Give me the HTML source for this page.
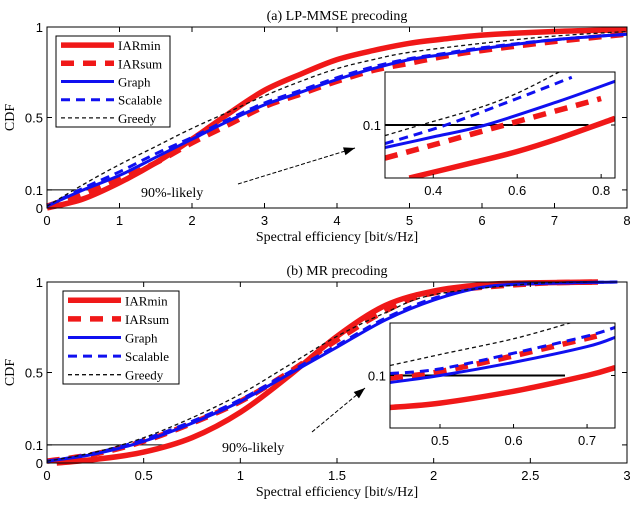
<!DOCTYPE html>
<html><head><meta charset="utf-8">
<style>
body{margin:0;background:#fff;width:638px;height:510px;overflow:hidden}
svg text{font-family:"Liberation Sans",sans-serif}
.serif{font-family:"Liberation Serif",serif}
</style></head>
<body>
<svg id="chart" width="638" height="510" viewBox="0 0 638 510" xmlns="http://www.w3.org/2000/svg"></svg>
<script>
// ---------- data: panel (a) LP-MMSE ----------
const aXTicks=[0,1,2,3,4,5,6,7,8];
const yTicks=[0,0.1,0.5,1];
const aIARminX=[0,0.5,1,1.5,2,2.5,3,3.5,4,4.5,5,5.5,6,7,8];
const aIARminY=[0,0.05,0.14,0.25,0.38,0.52,0.65,0.74,0.82,0.87,0.91,0.935,0.955,0.975,0.985];
const aIARsumX=[0,0.5,1,1.5,2,2.5,3,3.5,4,4.5,5,5.5,6,7,8];
const aIARsumY=[0.01,0.08,0.16,0.25,0.36,0.46,0.56,0.63,0.7,0.76,0.8,0.84,0.87,0.92,0.96];
const aGraphX=[0,0.5,1,1.5,2,2.5,3,3.5,4,4.5,5,5.5,6,7,8];
const aGraphY=[0.01,0.1,0.18,0.28,0.38,0.48,0.57,0.64,0.71,0.77,0.82,0.85,0.88,0.93,0.96];
const aScalX=[0,0.5,1,1.5,2,2.5,3,3.5,4,4.5,5,5.5,6,7,8];
const aScalY=[0.01,0.11,0.2,0.3,0.39,0.49,0.58,0.65,0.72,0.78,0.825,0.855,0.885,0.93,0.96];
const aGreedyX=[0,0.5,1,1.5,2,2.5,3,3.5,4,4.5,5,6,7,8];
const aGreedyY=[0.01,0.13,0.24,0.34,0.44,0.53,0.62,0.7,0.77,0.82,0.86,0.91,0.95,0.975];
// inset (a)
const aInXTicks=[0.4,0.6,0.8];
const aInIARminX=[0.343,0.5,0.6,0.7,0.833];
const aInIARminY=[0.06,0.072,0.08,0.09,0.105];
const aInIARsumX=[0.285,0.4,0.57,0.8];
const aInIARsumY=[0.075,0.085,0.1,0.12];
const aInGraphX=[0.285,0.4,0.525,0.7,0.833];
const aInGraphY=[0.083,0.091,0.1,0.118,0.133];
const aInScalX=[0.285,0.43,0.6,0.73];
const aInScalY=[0.086,0.1,0.12,0.136];
const aInGreedyX=[0.285,0.37,0.5,0.6,0.7];
const aInGreedyY=[0.092,0.1,0.112,0.124,0.14];
// ---------- data: panel (b) MR ----------
const bXTicks=[0,0.5,1,1.5,2,2.5,3];
const bIARminX=[0.05,0.25,0.5,0.75,1,1.25,1.5,1.75,2,2.25,2.5,2.85];
const bIARminY=[0,0.02,0.06,0.14,0.28,0.48,0.7,0.87,0.95,0.985,0.995,1];
const bIARsumX=[0,0.25,0.5,0.75,1,1.25,1.5,1.75,2,2.5,2.85];
const bIARsumY=[0.01,0.05,0.12,0.22,0.34,0.5,0.68,0.84,0.94,0.99,1];
const bGraphX=[0,0.25,0.5,0.75,1,1.25,1.5,1.75,2,2.25,2.5,2.95];
const bGraphY=[0.01,0.05,0.12,0.22,0.34,0.49,0.64,0.79,0.9,0.97,0.99,1];
const bScalX=[0,0.25,0.5,0.75,1,1.25,1.5,1.75,2,2.25,2.5,2.95];
const bScalY=[0.01,0.055,0.13,0.23,0.35,0.5,0.65,0.8,0.91,0.97,0.99,1];
const bGreedyX=[0,0.25,0.5,0.75,1,1.25,1.5,1.75,2,2.5,2.8];
const bGreedyY=[0.01,0.06,0.14,0.25,0.38,0.54,0.7,0.83,0.93,0.99,1];
// inset (b)
const bInXTicks=[0.5,0.6,0.7];
const bInIARminX=[0.432,0.5,0.6,0.7,0.738];
const bInIARminY=[0.0756,0.079,0.088,0.1,0.106];
const bInIARsumX=[0.432,0.5,0.6,0.72];
const bInIARsumY=[0.098,0.103,0.115,0.131];
const bInGraphX=[0.432,0.5,0.6,0.7,0.738];
const bInGraphY=[0.0947,0.1,0.11,0.122,0.129];
const bInScalX=[0.432,0.5,0.6,0.7,0.738];
const bInScalY=[0.1015,0.105,0.117,0.13,0.1366];
const bInGreedyX=[0.432,0.5,0.6,0.677];
const bInGreedyY=[0.1076,0.116,0.128,0.14];

const NS="http://www.w3.org/2000/svg";
const svg=document.getElementById('chart');
function mk(tag,attrs,parent){const e=document.createElementNS(NS,tag);for(const k in attrs)e.setAttribute(k,attrs[k]);(parent||svg).appendChild(e);return e;}
const styles={
 iarmin:{stroke:'#f01818',w:5.5,dash:''},
 iarsum:{stroke:'#f01818',w:5.5,dash:'13 9'},
 graph:{stroke:'#1010f0',w:3,dash:''},
 scal:{stroke:'#1010f0',w:3,dash:'9 6'},
 greedy:{stroke:'#111',w:1.3,dash:'4 3'}
};
function line(g,xs,ys,sx,sy,st,name){
 const P=xs.map((x,i)=>[sx(x),sy(ys[i])]);
 let d='M'+P[0][0].toFixed(1)+','+P[0][1].toFixed(1);
 for(let i=0;i<P.length-1;i++){
  const p0=P[Math.max(0,i-1)],p1=P[i],p2=P[i+1],p3=P[Math.min(P.length-1,i+2)];
  const c1=[p1[0]+(p2[0]-p0[0])/6,p1[1]+(p2[1]-p0[1])/6];
  const c2=[p2[0]-(p3[0]-p1[0])/6,p2[1]-(p3[1]-p1[1])/6];
  d+=` C${c1[0].toFixed(1)},${c1[1].toFixed(1)} ${c2[0].toFixed(1)},${c2[1].toFixed(1)} ${p2[0].toFixed(1)},${p2[1].toFixed(1)}`;
 }
 const el=mk('path',{d:d,fill:'none',stroke:st.stroke,'stroke-width':st.w,'stroke-dasharray':st.dash,'stroke-linejoin':'round'},g);
 
 
}
function panel(o){
 const g=mk('g',{});
 
 
 const sx=v=>o.L+(v-o.x0)/(o.x1-o.x0)*(o.R-o.L);
 const sy=v=>o.B-(v)*(o.B-o.T);
 mk('line',{x1:sx(o.x0),x2:sx(o.refEnd),y1:sy(0.1),y2:sy(0.1),stroke:'#000','stroke-width':1},g);
 line(g,o.d.iarmin[0],o.d.iarmin[1],sx,sy,styles.iarmin,'iarmin-curve');
 line(g,o.d.iarsum[0],o.d.iarsum[1],sx,sy,styles.iarsum,'iarsum-curve');
 line(g,o.d.graph[0],o.d.graph[1],sx,sy,styles.graph,'graph-curve');
 line(g,o.d.scal[0],o.d.scal[1],sx,sy,styles.scal,'scalable-curve');
 line(g,o.d.greedy[0],o.d.greedy[1],sx,sy,styles.greedy,'greedy-curve');
 const box=mk('rect',{x:o.L,y:o.T,width:o.R-o.L,height:o.B-o.T,fill:'none',stroke:'#000','stroke-width':1},g);
 
 
 o.xt.forEach(v=>{const x=sx(v);
  mk('line',{x1:x,x2:x,y1:o.B,y2:o.B-5,stroke:'#000'},g);
  mk('line',{x1:x,x2:x,y1:o.T,y2:o.T+5,stroke:'#000'},g);
  const t=mk('text',{x:x,y:o.B+17,'text-anchor':'middle','font-size':13},g);t.textContent=v;
  
  
 });
 yTicks.forEach(v=>{const y=sy(v);
  mk('line',{x1:o.L,x2:o.L+5,y1:y,y2:y,stroke:'#000'},g);
  mk('line',{x1:o.R,x2:o.R-5,y1:y,y2:y,stroke:'#000'},g);
  const t=mk('text',{x:o.L-4,y:y+5,'text-anchor':'end','font-size':13},g);t.textContent=v;
  
  
 });
 const ti=mk('text',{x:(o.L+o.R)/2,y:o.T-7,'text-anchor':'middle','font-size':14,class:'serif'},g);ti.textContent=o.title;
 
 
 const xl=mk('text',{x:(o.L+o.R)/2,y:o.B+33,'text-anchor':'middle','font-size':14,class:'serif'},g);xl.textContent='Spectral efficiency [bit/s/Hz]';
 
 
 const yl=mk('text',{x:14,y:(o.T+o.B)/2,'text-anchor':'middle','font-size':14,class:'serif',transform:`rotate(-90 14 ${(o.T+o.B)/2})`},g);yl.textContent='CDF';
 
 
 const I=o.in;
 const ig=mk('g',{},g);
 
 
 mk('rect',{x:I.L,y:I.T,width:I.R-I.L,height:I.B-I.T,fill:'#fff'},ig);
 const isx=v=>I.L+(v-I.x0)/(I.x1-I.x0)*(I.R-I.L);
 const isy=v=>I.B-(v-0.06)/(0.14-0.06)*(I.B-I.T);
 const cp='clip'+o.name;
 const c=mk('clipPath',{id:cp},ig);mk('rect',{x:I.L,y:I.T,width:I.R-I.L,height:I.B-I.T},c);
 const ic=mk('g',{'clip-path':`url(#${cp})`},ig);
 mk('line',{x1:isx(I.x0),x2:isx(I.refEnd),y1:isy(0.1),y2:isy(0.1),stroke:'#000','stroke-width':2},ic);
 line(ic,I.d.iarmin[0],I.d.iarmin[1],isx,isy,styles.iarmin,'inset-iarmin-curve');
 line(ic,I.d.iarsum[0],I.d.iarsum[1],isx,isy,styles.iarsum,'inset-iarsum-curve');
 line(ic,I.d.graph[0],I.d.graph[1],isx,isy,styles.graph,'inset-graph-curve');
 line(ic,I.d.scal[0],I.d.scal[1],isx,isy,styles.scal,'inset-scalable-curve');
 line(ic,I.d.greedy[0],I.d.greedy[1],isx,isy,styles.greedy,'inset-greedy-curve');
 mk('rect',{x:I.L,y:I.T,width:I.R-I.L,height:I.B-I.T,fill:'none',stroke:'#000'},ig);
 I.xt.forEach(v=>{const x=isx(v);
  mk('line',{x1:x,x2:x,y1:I.B,y2:I.B-4,stroke:'#000'},ig);
  const t=mk('text',{x:x,y:I.B+17,'text-anchor':'middle','font-size':13},ig);t.textContent=v;
  
  
 });
 mk('line',{x1:I.L,x2:I.L+4,y1:isy(0.1),y2:isy(0.1),stroke:'#000'},ig);
 mk('line',{x1:I.R,x2:I.R-4,y1:isy(0.1),y2:isy(0.1),stroke:'#000'},ig);
 const it=mk('text',{x:I.L-4,y:isy(0.1)+5,'text-anchor':'end','font-size':13},ig);it.textContent='0.1';
 
 
 const an=mk('text',{x:o.ann.tx,y:o.ann.ty,'font-size':14,class:'serif'},g);an.textContent='90%-likely';
 
 
 const ar=mk('line',{x1:o.ann.x1,y1:o.ann.y1,x2:o.ann.x2,y2:o.ann.y2,stroke:'#000','stroke-width':1,'stroke-dasharray':'4 2'},g);
 
 
 const ang=Math.atan2(o.ann.y2-o.ann.y1,o.ann.x2-o.ann.x1);
 const hx=o.ann.x2,hy=o.ann.y2,s=12;
 const p1=[hx-s*Math.cos(ang-0.35),hy-s*Math.sin(ang-0.35)],p2=[hx-s*Math.cos(ang+0.35),hy-s*Math.sin(ang+0.35)];
 mk('polygon',{points:`${hx},${hy} ${p1} ${p2}`,fill:'#000'},g);
 const Lg=o.leg;
 const lg=mk('g',{},g);
 
 
 mk('rect',{x:Lg.x,y:Lg.y,width:Lg.w,height:Lg.h,fill:'#fff',stroke:'#000'},lg);
 const ent=[['IARmin','iarmin'],['IARsum','iarsum'],['Graph','graph'],['Scalable','scal'],['Greedy','greedy']];
 ent.forEach((e,i)=>{const y=Lg.y+Lg.h*(i+0.5)/5;const st=styles[e[1]];
  const le=mk('g',{},lg);
  
  
  mk('line',{x1:Lg.x+5,x2:Lg.x+58,y1:y,y2:y,stroke:st.stroke,'stroke-width':st.w,'stroke-dasharray':st.dash},le);
  const t=mk('text',{x:Lg.x+62,y:y+5,'text-anchor':'start','font-size':13,class:'serif'},le);t.textContent=e[0];
 });
}
panel({name:'panel-a-lp-mmse',title:'(a) LP-MMSE precoding',L:47,R:627,T:27,B:208,x0:0,x1:8,xt:aXTicks,refEnd:0.8,
 d:{iarmin:[aIARminX,aIARminY],iarsum:[aIARsumX,aIARsumY],graph:[aGraphX,aGraphY],scal:[aScalX,aScalY],greedy:[aGreedyX,aGreedyY]},
 in:{L:385,R:615,T:72,B:178,x0:0.285,x1:0.833,xt:aInXTicks,refEnd:0.77,
  d:{iarmin:[aInIARminX,aInIARminY],iarsum:[aInIARsumX,aInIARsumY],graph:[aInGraphX,aInGraphY],scal:[aInScalX,aInScalY],greedy:[aInGreedyX,aInGreedyY]}},
 ann:{tx:141,ty:197,x1:238,y1:184,x2:355,y2:148},
 leg:{x:56,y:36,w:114,h:91}});
panel({name:'panel-b-mr',title:'(b) MR precoding',L:47,R:627,T:282,B:463,x0:0,x1:3,xt:bXTicks,refEnd:0.65,
 d:{iarmin:[bIARminX,bIARminY],iarsum:[bIARsumX,bIARsumY],graph:[bGraphX,bGraphY],scal:[bScalX,bScalY],greedy:[bGreedyX,bGreedyY]},
 in:{L:390,R:615,T:323,B:428,x0:0.432,x1:0.738,xt:bInXTicks,refEnd:0.67,
  d:{iarmin:[bInIARminX,bInIARminY],iarsum:[bInIARsumX,bInIARsumY],graph:[bInGraphX,bInGraphY],scal:[bInScalX,bInScalY],greedy:[bInGreedyX,bInGreedyY]}},
 ann:{tx:222,ty:452,x1:312,y1:432,x2:365,y2:388},
 leg:{x:63,y:291,w:116,h:93}});
</script>
</body></html>
